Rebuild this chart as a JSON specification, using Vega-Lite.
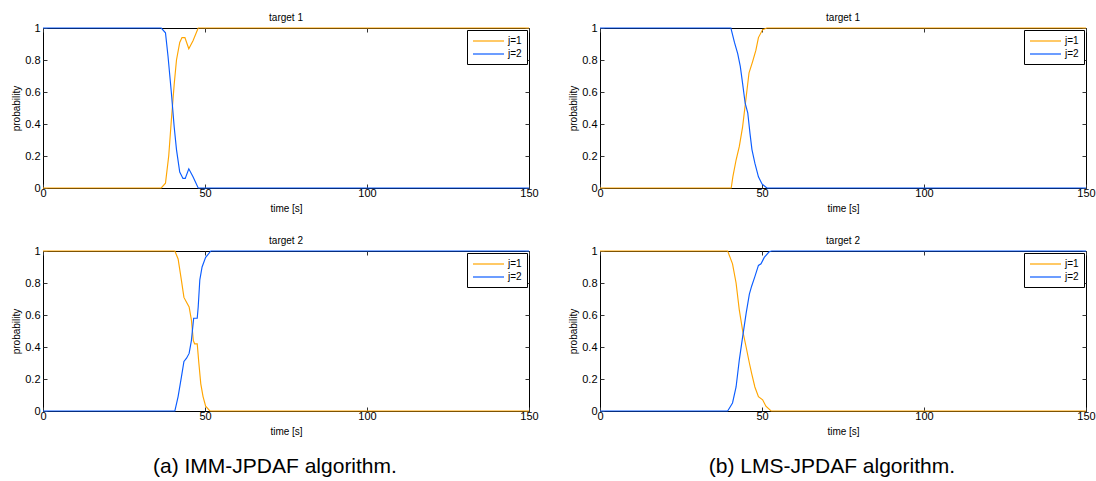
{
  "$schema": "https://vega.github.io/schema/vega-lite/v6.json",
  "background": "white",
  "padding": {"left": 11, "top": 12, "right": 5, "bottom": 5},
  "datasets": {
    "d": [
      {"panel": "a1", "j": "j=1", "t": 0, "p": 0},
      {"panel": "a1", "j": "j=1", "t": 36.5, "p": 0},
      {"panel": "a1", "j": "j=1", "t": 37.8, "p": 0.03},
      {"panel": "a1", "j": "j=1", "t": 38.8, "p": 0.2},
      {"panel": "a1", "j": "j=1", "t": 39.6, "p": 0.42},
      {"panel": "a1", "j": "j=1", "t": 40.5, "p": 0.65},
      {"panel": "a1", "j": "j=1", "t": 41.2, "p": 0.8},
      {"panel": "a1", "j": "j=1", "t": 42.2, "p": 0.91},
      {"panel": "a1", "j": "j=1", "t": 42.9, "p": 0.94},
      {"panel": "a1", "j": "j=1", "t": 43.8, "p": 0.94},
      {"panel": "a1", "j": "j=1", "t": 45.0, "p": 0.87},
      {"panel": "a1", "j": "j=1", "t": 46.3, "p": 0.92},
      {"panel": "a1", "j": "j=1", "t": 47.9, "p": 1},
      {"panel": "a1", "j": "j=1", "t": 150, "p": 1},
      {"panel": "a1", "j": "j=2", "t": 0, "p": 1},
      {"panel": "a1", "j": "j=2", "t": 36.5, "p": 1},
      {"panel": "a1", "j": "j=2", "t": 37.8, "p": 0.97},
      {"panel": "a1", "j": "j=2", "t": 38.6, "p": 0.82},
      {"panel": "a1", "j": "j=2", "t": 39.6, "p": 0.6},
      {"panel": "a1", "j": "j=2", "t": 40.5, "p": 0.38},
      {"panel": "a1", "j": "j=2", "t": 41.2, "p": 0.24},
      {"panel": "a1", "j": "j=2", "t": 42.2, "p": 0.1},
      {"panel": "a1", "j": "j=2", "t": 43.2, "p": 0.06},
      {"panel": "a1", "j": "j=2", "t": 43.9, "p": 0.06},
      {"panel": "a1", "j": "j=2", "t": 45.0, "p": 0.12},
      {"panel": "a1", "j": "j=2", "t": 46.3, "p": 0.07},
      {"panel": "a1", "j": "j=2", "t": 47.9, "p": 0},
      {"panel": "a1", "j": "j=2", "t": 150, "p": 0},

      {"panel": "a2", "j": "j=1", "t": 0, "p": 1},
      {"panel": "a2", "j": "j=1", "t": 40.7, "p": 1},
      {"panel": "a2", "j": "j=1", "t": 41.7, "p": 0.95},
      {"panel": "a2", "j": "j=1", "t": 42.7, "p": 0.82},
      {"panel": "a2", "j": "j=1", "t": 43.5, "p": 0.71},
      {"panel": "a2", "j": "j=1", "t": 44.3, "p": 0.68},
      {"panel": "a2", "j": "j=1", "t": 45.1, "p": 0.65},
      {"panel": "a2", "j": "j=1", "t": 45.8, "p": 0.57},
      {"panel": "a2", "j": "j=1", "t": 46.4, "p": 0.44},
      {"panel": "a2", "j": "j=1", "t": 46.8, "p": 0.42},
      {"panel": "a2", "j": "j=1", "t": 47.6, "p": 0.42},
      {"panel": "a2", "j": "j=1", "t": 48.1, "p": 0.3},
      {"panel": "a2", "j": "j=1", "t": 48.7, "p": 0.17},
      {"panel": "a2", "j": "j=1", "t": 49.4, "p": 0.09},
      {"panel": "a2", "j": "j=1", "t": 50.2, "p": 0.03},
      {"panel": "a2", "j": "j=1", "t": 51.5, "p": 0},
      {"panel": "a2", "j": "j=1", "t": 150, "p": 0},
      {"panel": "a2", "j": "j=2", "t": 0, "p": 0},
      {"panel": "a2", "j": "j=2", "t": 40.7, "p": 0},
      {"panel": "a2", "j": "j=2", "t": 41.7, "p": 0.09},
      {"panel": "a2", "j": "j=2", "t": 42.7, "p": 0.21},
      {"panel": "a2", "j": "j=2", "t": 43.5, "p": 0.31},
      {"panel": "a2", "j": "j=2", "t": 44.3, "p": 0.33},
      {"panel": "a2", "j": "j=2", "t": 45.1, "p": 0.36},
      {"panel": "a2", "j": "j=2", "t": 45.8, "p": 0.44},
      {"panel": "a2", "j": "j=2", "t": 46.5, "p": 0.58},
      {"panel": "a2", "j": "j=2", "t": 47.6, "p": 0.58},
      {"panel": "a2", "j": "j=2", "t": 47.9, "p": 0.65},
      {"panel": "a2", "j": "j=2", "t": 48.4, "p": 0.82},
      {"panel": "a2", "j": "j=2", "t": 49.1, "p": 0.9},
      {"panel": "a2", "j": "j=2", "t": 50.2, "p": 0.96},
      {"panel": "a2", "j": "j=2", "t": 51.8, "p": 1},
      {"panel": "a2", "j": "j=2", "t": 150, "p": 1},

      {"panel": "b1", "j": "j=1", "t": 0, "p": 0},
      {"panel": "b1", "j": "j=1", "t": 40.5, "p": 0},
      {"panel": "b1", "j": "j=1", "t": 41.0, "p": 0.07},
      {"panel": "b1", "j": "j=1", "t": 42.0, "p": 0.175},
      {"panel": "b1", "j": "j=1", "t": 43.0, "p": 0.26},
      {"panel": "b1", "j": "j=1", "t": 44.0, "p": 0.38},
      {"panel": "b1", "j": "j=1", "t": 45.0, "p": 0.55},
      {"panel": "b1", "j": "j=1", "t": 46.0, "p": 0.72},
      {"panel": "b1", "j": "j=1", "t": 47.1, "p": 0.79},
      {"panel": "b1", "j": "j=1", "t": 48.1, "p": 0.86},
      {"panel": "b1", "j": "j=1", "t": 48.9, "p": 0.94},
      {"panel": "b1", "j": "j=1", "t": 50.2, "p": 0.99},
      {"panel": "b1", "j": "j=1", "t": 51.5, "p": 1},
      {"panel": "b1", "j": "j=1", "t": 150, "p": 1},
      {"panel": "b1", "j": "j=2", "t": 0, "p": 1},
      {"panel": "b1", "j": "j=2", "t": 40.4, "p": 1},
      {"panel": "b1", "j": "j=2", "t": 41.5, "p": 0.91},
      {"panel": "b1", "j": "j=2", "t": 42.5, "p": 0.84},
      {"panel": "b1", "j": "j=2", "t": 43.3, "p": 0.76},
      {"panel": "b1", "j": "j=2", "t": 44.0, "p": 0.655},
      {"panel": "b1", "j": "j=2", "t": 44.8, "p": 0.53},
      {"panel": "b1", "j": "j=2", "t": 45.6, "p": 0.47},
      {"panel": "b1", "j": "j=2", "t": 46.3, "p": 0.34},
      {"panel": "b1", "j": "j=2", "t": 46.9, "p": 0.24},
      {"panel": "b1", "j": "j=2", "t": 47.8, "p": 0.155},
      {"panel": "b1", "j": "j=2", "t": 48.9, "p": 0.07},
      {"panel": "b1", "j": "j=2", "t": 50.0, "p": 0.025},
      {"panel": "b1", "j": "j=2", "t": 51.5, "p": 0},
      {"panel": "b1", "j": "j=2", "t": 150, "p": 0},

      {"panel": "b2", "j": "j=1", "t": 0, "p": 1},
      {"panel": "b2", "j": "j=1", "t": 39.4, "p": 1},
      {"panel": "b2", "j": "j=1", "t": 40.9, "p": 0.92},
      {"panel": "b2", "j": "j=1", "t": 42.0, "p": 0.8},
      {"panel": "b2", "j": "j=1", "t": 43.0, "p": 0.63},
      {"panel": "b2", "j": "j=1", "t": 44.0, "p": 0.505},
      {"panel": "b2", "j": "j=1", "t": 45.1, "p": 0.4},
      {"panel": "b2", "j": "j=1", "t": 46.1, "p": 0.3},
      {"panel": "b2", "j": "j=1", "t": 46.8, "p": 0.235},
      {"panel": "b2", "j": "j=1", "t": 47.8, "p": 0.15},
      {"panel": "b2", "j": "j=1", "t": 48.9, "p": 0.09},
      {"panel": "b2", "j": "j=1", "t": 50.2, "p": 0.07},
      {"panel": "b2", "j": "j=1", "t": 51.2, "p": 0.03},
      {"panel": "b2", "j": "j=1", "t": 52.8, "p": 0},
      {"panel": "b2", "j": "j=1", "t": 150, "p": 0},
      {"panel": "b2", "j": "j=2", "t": 0, "p": 0},
      {"panel": "b2", "j": "j=2", "t": 39.4, "p": 0},
      {"panel": "b2", "j": "j=2", "t": 40.9, "p": 0.05},
      {"panel": "b2", "j": "j=2", "t": 42.0, "p": 0.15},
      {"panel": "b2", "j": "j=2", "t": 43.0, "p": 0.32},
      {"panel": "b2", "j": "j=2", "t": 44.0, "p": 0.46},
      {"panel": "b2", "j": "j=2", "t": 45.1, "p": 0.61},
      {"panel": "b2", "j": "j=2", "t": 46.1, "p": 0.73},
      {"panel": "b2", "j": "j=2", "t": 46.8, "p": 0.78},
      {"panel": "b2", "j": "j=2", "t": 47.8, "p": 0.84},
      {"panel": "b2", "j": "j=2", "t": 48.9, "p": 0.91},
      {"panel": "b2", "j": "j=2", "t": 49.7, "p": 0.92},
      {"panel": "b2", "j": "j=2", "t": 50.7, "p": 0.96},
      {"panel": "b2", "j": "j=2", "t": 52.2, "p": 0.995},
      {"panel": "b2", "j": "j=2", "t": 53.0, "p": 1},
      {"panel": "b2", "j": "j=2", "t": 150, "p": 1}
    ]
  },
  "config": {
    "font": "Liberation Sans",
    "view": {"stroke": "black", "strokeWidth": 1},
    "axis": {
      "grid": false, "domain": false, "labelFlush": false,
      "tickColor": "#333333", "tickSize": -4, "tickWidth": 1,
      "labelColor": "black", "labelFontSize": 11,
      "titleColor": "black", "titleFontSize": 10, "titleFontWeight": "normal"
    },
    "axisX": {"labelPadding": 3, "titlePadding": 5},
    "axisY": {"labelPadding": 7, "titlePadding": 3},
    "axisTop": {"labelPadding": 0, "minExtent": 0, "maxExtent": 0},
    "title": {"fontSize": 10, "fontWeight": "normal", "color": "black"},
    "legend": {
      "orient": "top-right", "offset": 2, "strokeColor": "black", "fillColor": "white",
      "padding": 5, "symbolType": "M-1,0H5.2", "symbolSize": 100, "symbolStrokeWidth": 1.2,
      "labelFontSize": 10, "labelColor": "black", "rowPadding": 2, "labelOffset": 24, "title": null
    }
  },
  "spacing": 29,
  "resolve": {"scale": {"color": "independent"}, "legend": {"color": "independent"}},
  "hconcat": [
    {
      "title": {"text": "(a)  IMM-JPDAF algorithm.", "orient": "bottom", "anchor": "middle", "fontSize": 21, "offset": 19},
      "spacing": 21,
      "resolve": {"scale": {"color": "independent"}, "legend": {"color": "independent"}},
      "vconcat": [
        {
          "title": {"text": "target 1", "offset": -1}, "width": 486, "height": 160,
          "data": {"name": "d"},
          "transform": [{"filter": "datum.panel === 'a1'"}],
          "layer": [
            {"mark": {"type": "line", "strokeWidth": 1.15},
             "encoding": {
               "x": {"field": "t", "type": "quantitative", "scale": {"domain": [0, 150], "nice": false}, "axis": {"values": [0, 50, 100, 150], "title": "time [s]", "format": "d"}},
               "y": {"field": "p", "type": "quantitative", "scale": {"domain": [0, 1]}, "axis": {"values": [0, 0.2, 0.4, 0.6, 0.8, 1], "title": "probability", "format": "~g"}},
               "color": {"field": "j", "type": "nominal", "scale": {"domain": ["j=1", "j=2"], "range": ["#ffa500", "#0a5cff"]}, "legend": {"title": null}}
             }},
            {"mark": {"type": "line", "opacity": 0},
             "encoding": {
               "x": {"field": "t", "type": "quantitative", "axis": {"orient": "top", "values": [0, 50, 100, 150], "labels": false, "title": null}},
               "y": {"field": "p", "type": "quantitative", "axis": {"orient": "right", "values": [0, 0.2, 0.4, 0.6, 0.8, 1], "labels": false, "title": null}}
             }}
          ],
          "resolve": {"axis": {"x": "independent", "y": "independent"}}
        },
        {
          "title": {"text": "target 2", "offset": -1}, "width": 486, "height": 160,
          "data": {"name": "d"},
          "transform": [{"filter": "datum.panel === 'a2'"}],
          "layer": [
            {"mark": {"type": "line", "strokeWidth": 1.15},
             "encoding": {
               "x": {"field": "t", "type": "quantitative", "scale": {"domain": [0, 150], "nice": false}, "axis": {"values": [0, 50, 100, 150], "title": "time [s]", "format": "d"}},
               "y": {"field": "p", "type": "quantitative", "scale": {"domain": [0, 1]}, "axis": {"values": [0, 0.2, 0.4, 0.6, 0.8, 1], "title": "probability", "format": "~g"}},
               "color": {"field": "j", "type": "nominal", "scale": {"domain": ["j=1", "j=2"], "range": ["#ffa500", "#0a5cff"]}, "legend": {"title": null}}
             }},
            {"mark": {"type": "line", "opacity": 0},
             "encoding": {
               "x": {"field": "t", "type": "quantitative", "axis": {"orient": "top", "values": [0, 50, 100, 150], "labels": false, "title": null}},
               "y": {"field": "p", "type": "quantitative", "axis": {"orient": "right", "values": [0, 0.2, 0.4, 0.6, 0.8, 1], "labels": false, "title": null}}
             }}
          ],
          "resolve": {"axis": {"x": "independent", "y": "independent"}}
        }
      ]
    },
    {
      "title": {"text": "(b)  LMS-JPDAF algorithm.", "orient": "bottom", "anchor": "middle", "fontSize": 21, "offset": 19},
      "spacing": 21,
      "resolve": {"scale": {"color": "independent"}, "legend": {"color": "independent"}},
      "vconcat": [
        {
          "title": {"text": "target 1", "offset": -1}, "width": 486, "height": 160,
          "data": {"name": "d"},
          "transform": [{"filter": "datum.panel === 'b1'"}],
          "layer": [
            {"mark": {"type": "line", "strokeWidth": 1.15},
             "encoding": {
               "x": {"field": "t", "type": "quantitative", "scale": {"domain": [0, 150], "nice": false}, "axis": {"values": [0, 50, 100, 150], "title": "time [s]", "format": "d"}},
               "y": {"field": "p", "type": "quantitative", "scale": {"domain": [0, 1]}, "axis": {"values": [0, 0.2, 0.4, 0.6, 0.8, 1], "title": "probability", "format": "~g"}},
               "color": {"field": "j", "type": "nominal", "scale": {"domain": ["j=1", "j=2"], "range": ["#ffa500", "#0a5cff"]}, "legend": {"title": null}}
             }},
            {"mark": {"type": "line", "opacity": 0},
             "encoding": {
               "x": {"field": "t", "type": "quantitative", "axis": {"orient": "top", "values": [0, 50, 100, 150], "labels": false, "title": null}},
               "y": {"field": "p", "type": "quantitative", "axis": {"orient": "right", "values": [0, 0.2, 0.4, 0.6, 0.8, 1], "labels": false, "title": null}}
             }}
          ],
          "resolve": {"axis": {"x": "independent", "y": "independent"}}
        },
        {
          "title": {"text": "target 2", "offset": -1}, "width": 486, "height": 160,
          "data": {"name": "d"},
          "transform": [{"filter": "datum.panel === 'b2'"}],
          "layer": [
            {"mark": {"type": "line", "strokeWidth": 1.15},
             "encoding": {
               "x": {"field": "t", "type": "quantitative", "scale": {"domain": [0, 150], "nice": false}, "axis": {"values": [0, 50, 100, 150], "title": "time [s]", "format": "d"}},
               "y": {"field": "p", "type": "quantitative", "scale": {"domain": [0, 1]}, "axis": {"values": [0, 0.2, 0.4, 0.6, 0.8, 1], "title": "probability", "format": "~g"}},
               "color": {"field": "j", "type": "nominal", "scale": {"domain": ["j=1", "j=2"], "range": ["#ffa500", "#0a5cff"]}, "legend": {"title": null}}
             }},
            {"mark": {"type": "line", "opacity": 0},
             "encoding": {
               "x": {"field": "t", "type": "quantitative", "axis": {"orient": "top", "values": [0, 50, 100, 150], "labels": false, "title": null}},
               "y": {"field": "p", "type": "quantitative", "axis": {"orient": "right", "values": [0, 0.2, 0.4, 0.6, 0.8, 1], "labels": false, "title": null}}
             }}
          ],
          "resolve": {"axis": {"x": "independent", "y": "independent"}}
        }
      ]
    }
  ]
}
